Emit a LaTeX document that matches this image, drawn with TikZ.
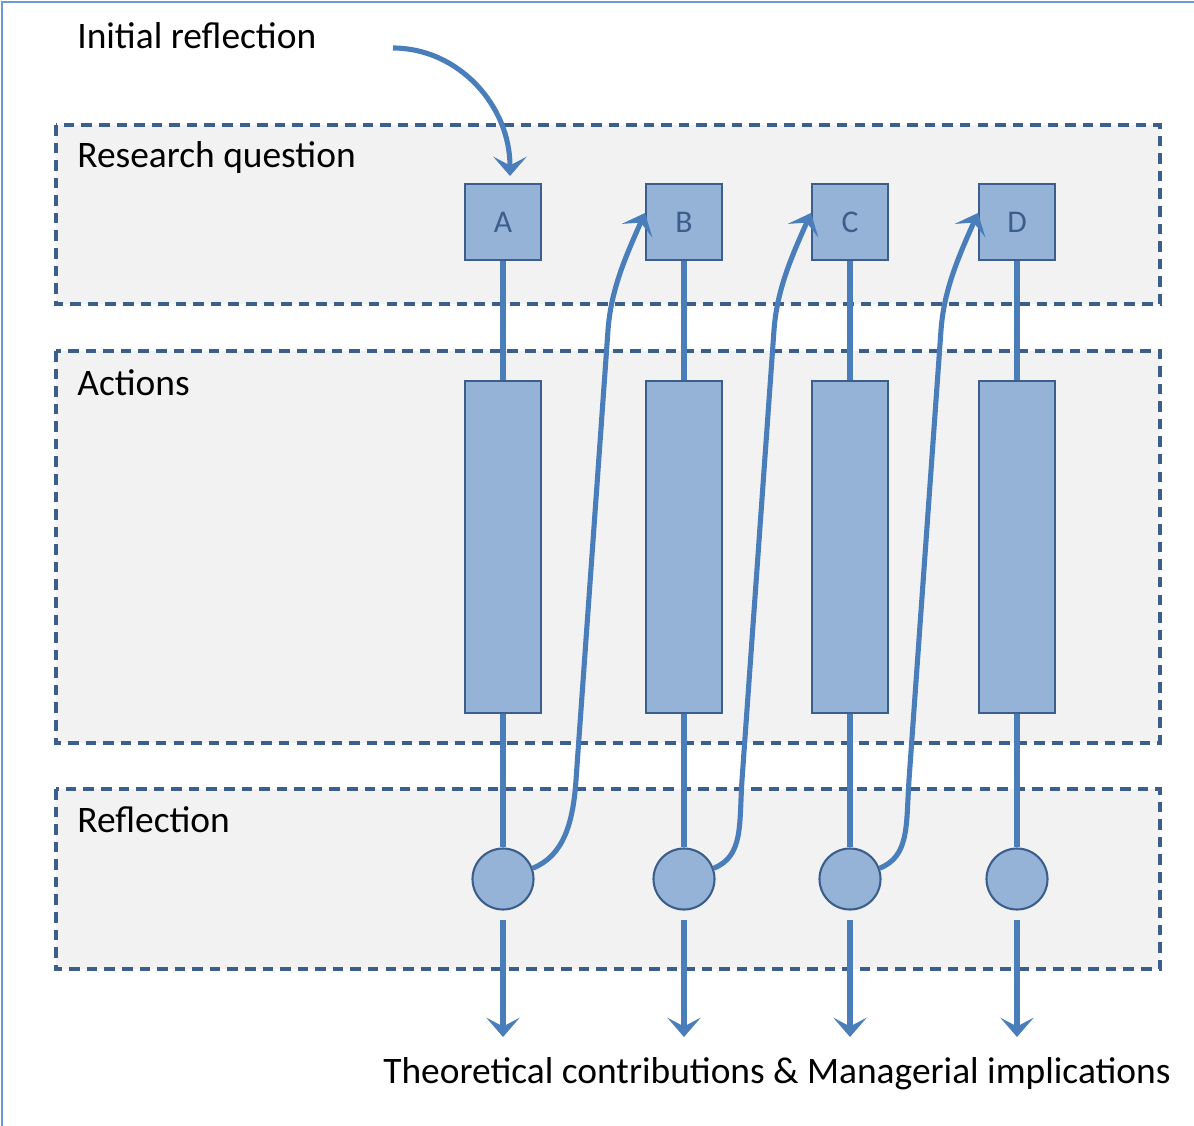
\documentclass[tikz,border=0pt]{standalone}
\usepackage{fontspec}
\setmainfont{Carlito}
\usepackage{xcolor}
\usepackage{tikz}
\usetikzlibrary{arrows.meta}
\definecolor{PanelFill}{HTML}{F2F2F2}
\definecolor{DarkBlue}{HTML}{3B5E8C}
\definecolor{BoxFill}{HTML}{95B3D7}
\definecolor{LinkBlue}{HTML}{4A7EBB}
\definecolor{FrameBlue}{HTML}{6F9AD0}
\tikzset{
    Panel/.style = {fill=PanelFill,draw=DarkBlue,line width=2pt,dash pattern=on 6pt off 4pt},
    Label/.style = {anchor=base west,inner sep=0pt,font=\fontsize{21.3}{25}\selectfont},
    Question/.style = {draw=DarkBlue,fill=BoxFill,line width=1.2pt,minimum size=1.52cm,
        inner sep=0pt,text=DarkBlue,font=\fontsize{18}{21}\selectfont},
    Action/.style = {draw=DarkBlue,fill=BoxFill,line width=1.2pt,minimum width=1.52cm,minimum height=6.64cm},
    Reflect/.style = {circle,draw=DarkBlue,fill=BoxFill,line width=1.2pt,minimum size=1.22cm,inner sep=0pt},
    Link/.style = {draw=LinkBlue,line width=2.9pt},
    Tip/.style = {-{Stealth[length=11pt,width=19pt,inset=5pt]}}
}
\begin{document}
\begin{tikzpicture}[x=0.02cm,y=-0.02cm]
    \useasboundingbox (0,0) rectangle (1194,1126);
    \draw[FrameBlue,line width=1.4pt] (2,1126) -- (2,2) -- (1194,2);
    \draw[Panel] (56,125) rectangle (1160,304);
    \draw[Panel] (56,351) rectangle (1160,743);
    \draw[Panel] (56,789) rectangle (1160,969);
    \node[Label] (init) at (77,48) {Initial reflection};
    \node[Label] (rq) at (77,167) {Research question};
    \node[Label] (act) at (77,395) {Actions};
    \node[Label] (refl) at (77,832) {Reflection};
    \node[anchor=base,inner sep=0pt,font=\fontsize{21.3}{25}\selectfont] (out) at (777,1083)
        {Theoretical contributions \& Managerial implications};
    \foreach \n/\X in {A/503,B/684,C/850,D/1017}
        {\node[Question] (q\n) at (\X,222) {\n};
        \node[Action] (a\n) at (\X,547) {};
        \node[Reflect] (c\n) at (\X,879) {};
        \coordinate (o\n) at (\X,1037);
        \draw[Link] (q\n) -- (a\n);
        \draw[Link] (a\n) -- (c\n);
        \draw[Link,Tip,shorten <=0.18cm] (c\n) -- (o\n);}
    \coordinate (start) at (393,48);
    \coordinate (enter) at (510,176);
    \draw[Link,Tip] (start) .. controls (458,48) and (510,105) .. (enter);
    \foreach \s/\t/\tx in {A/B/646,B/C/812,C/D/979}
        {\draw[Link,Tip] (c\s.20) .. controls +(30,-12) and +(-3,45) .. (\tx-70,780)
            -- (\tx-38,330) .. controls +(3,-40) and +(-20,45) .. (q\t.167);}
\end{tikzpicture}
\end{document}
